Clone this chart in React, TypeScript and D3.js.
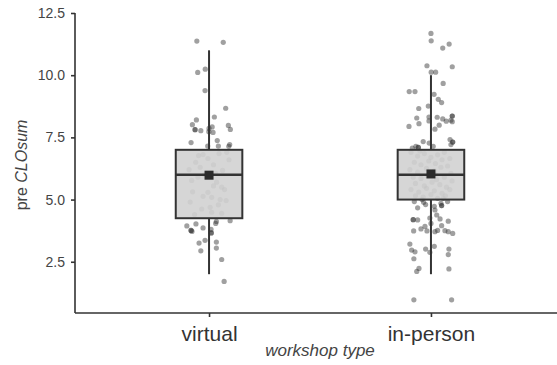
import { useEffect, useRef } from 'react';
import * as d3 from 'd3';

// categories and box statistics
const groups = ['virtual', 'in-person'];
const whiskerLo = [2.0, 2.0];
const q1 = [4.25, 5.0];
const medians = [6.0, 6.0];
const q3 = [7.0, 7.0];
const whiskerHi = [11.0, 10.0];
const means = [5.98, 6.03];

const yTicks = [2.5, 5.0, 7.5, 10.0, 12.5];

// jittered points: [horizontal jitter (fraction of category step), pre CLOsum]
const virtualPts: [number, number][] = [
  [-0.055, 11.37], [0.064, 11.32], [-0.051, 10.11], [-0.017, 10.24], [-0.018, 9.38],
  [0.075, 8.67], [0.024, 8.32], [-0.057, 8.2], [-0.075, 8.01], [0.087, 7.98],
  [0.014, 7.92], [-0.063, 7.81], [-0.063, 7.81], [-0.037, 7.77], [0.0, 7.86],
  [0.096, 7.82], [-0.001, 7.73], [0.018, 7.7], [-0.081, 7.29], [0.037, 7.37],
  [0.042, 7.15], [0.093, 7.21], [0.089, 7.14], [-0.006, 7.15],
  [-0.047, 6.77], [-0.027, 6.81], [-0.005, 6.65], [0.061, 6.17], [0.034, 5.7],
  [0.057, 5.5], [-0.078, 5.77], [-0.074, 5.31], [-0.027, 5.13], [-0.005, 5.29],
  [0.012, 5.09], [0.042, 4.79], [0.05, 5.0], [-0.033, 4.62], [0.012, 4.49],
  [0.057, 4.45], [0.077, 4.96], [0.005, 4.69], [-0.06, 6.5], [0.02, 6.4],
  [0.08, 6.9], [-0.09, 6.2], [-0.02, 6.0], [0.03, 6.05], [-0.05, 5.9],
  [0.07, 5.4], [-0.085, 4.9], [0.09, 6.6], [-0.065, 4.4], [0.02, 5.55],
  [-0.04, 6.3], [0.045, 6.85],
  [-0.1, 3.94], [-0.081, 3.76], [-0.081, 3.76], [-0.077, 3.72], [-0.059, 4.02],
  [-0.027, 3.86], [0.009, 3.8], [0.01, 3.66], [0.01, 3.66], [0.03, 4.04],
  [0.033, 4.12], [0.095, 4.15], [-0.018, 3.36], [-0.045, 3.25], [0.033, 3.29],
  [-0.037, 2.94], [0.033, 3.05], [0.057, 2.59], [0.068, 1.71],
];

const inPersonPts: [number, number][] = [
  [0.0, 11.68], [0.001, 11.38], [0.053, 11.09], [0.082, 11.25], [-0.018, 10.38],
  [0.001, 10.12], [0.021, 10.12], [0.096, 10.34], [0.055, 9.67], [-0.098, 9.34],
  [-0.072, 9.34], [0.014, 9.23], [0.033, 9.03], [0.048, 8.9], [-0.012, 8.76],
  [-0.055, 8.66], [-0.064, 8.28], [-0.009, 8.32], [0.028, 8.31], [0.053, 8.24],
  [0.069, 8.15], [0.09, 8.19], [0.096, 8.36], [0.096, 8.36], [0.096, 8.13],
  [-0.099, 7.94], [-0.054, 8.05], [-0.009, 8.16], [0.018, 7.83], [0.037, 7.99],
  [-0.035, 7.33], [-0.008, 7.27], [0.01, 7.14], [0.086, 7.41], [0.09, 7.21],
  [0.098, 7.31], [0.098, 7.31], [-0.084, 7.07], [-0.068, 7.14], [-0.057, 7.1],
  [-0.057, 7.1],
  [-0.09, 6.9], [-0.06, 6.75], [-0.03, 6.85], [0.0, 6.7], [0.03, 6.8],
  [0.06, 6.9], [0.085, 6.65], [-0.075, 6.5], [-0.045, 6.4], [-0.01, 6.55],
  [0.02, 6.45], [0.05, 6.6], [0.075, 6.35], [-0.095, 6.2], [-0.06, 6.1],
  [-0.02, 6.25], [0.015, 6.15], [0.045, 6.3], [0.09, 6.05], [-0.08, 5.9],
  [-0.045, 5.85], [-0.015, 5.95], [0.025, 5.8], [0.06, 5.9], [0.095, 5.75],
  [-0.07, 5.65], [-0.03, 5.55], [0.005, 5.7], [0.04, 5.6], [0.07, 5.5],
  [-0.09, 5.4], [-0.055, 5.3], [-0.02, 5.45], [0.015, 5.35], [0.05, 5.25],
  [0.085, 5.4], [-0.07, 5.15], [-0.035, 5.1], [0.0, 5.2], [0.03, 5.05],
  [0.065, 5.15], [-0.05, 6.95], [0.02, 6.0], [-0.04, 5.0], [0.055, 5.05],
  [-0.075, 4.92], [-0.06, 4.67], [-0.033, 4.89], [-0.024, 4.8], [0.015, 4.73],
  [0.018, 4.58], [0.048, 4.76], [0.048, 4.76], [0.045, 4.85], [0.075, 4.92],
  [-0.08, 4.19], [-0.08, 4.19], [-0.06, 4.18], [-0.005, 4.26], [0.0, 4.04],
  [0.026, 4.38], [0.041, 4.22], [0.078, 4.13], [-0.045, 3.82], [-0.027, 3.92],
  [-0.018, 3.74], [-0.078, 3.74], [0.018, 3.71], [0.03, 3.76], [0.048, 3.95],
  [0.063, 3.75], [0.078, 3.71], [0.098, 3.64], [-0.095, 3.21], [-0.087, 2.97],
  [-0.072, 2.9], [-0.077, 2.62], [-0.024, 3.01], [-0.005, 2.88], [0.015, 3.12],
  [0.081, 3.01], [0.078, 2.79], [-0.054, 2.23], [-0.064, 2.11], [0.081, 2.21],
  [-0.077, 0.97], [0.093, 0.97],
];

const points = [virtualPts, inPersonPts];

export default function App() {
  const ref = useRef<SVGSVGElement>(null);

  useEffect(() => {
    const svg = d3.select(ref.current);
    svg.selectAll('*').remove();

    const W = 557, H = 365;
    const left = 75, right = 565, top = 13, bottom = 313;
    const ink = '#333333';
    const font = '"Liberation Sans", Arial, sans-serif';

    const x = d3.scalePoint<string>().domain(groups).range([left, right]).padding(0.604);
    const y = d3.scaleLinear().domain([0.44, 12.5]).range([bottom, top]);
    const step = x.step();
    const boxW = step * 0.3;

    // points first, box drawn over them
    groups.forEach((g, i) => {
      svg.append('g')
        .selectAll('circle')
        .data(points[i])
        .enter()
        .append('circle')
        .attr('cx', d => x(g)! + d[0] * step)
        .attr('cy', d => y(d[1]))
        .attr('r', 2.6)
        .attr('fill', '#2d2d2d')
        .attr('fill-opacity', 0.45);
    });

    groups.forEach((g, i) => {
      const cx = x(g)!;
      const grp = svg.append('g');
      // whiskers
      grp.append('line')
        .attr('x1', cx).attr('x2', cx)
        .attr('y1', y(whiskerHi[i])).attr('y2', y(q3[i]))
        .attr('stroke', ink).attr('stroke-width', 2);
      grp.append('line')
        .attr('x1', cx).attr('x2', cx)
        .attr('y1', y(q1[i])).attr('y2', y(whiskerLo[i]))
        .attr('stroke', ink).attr('stroke-width', 2);
      // box
      grp.append('rect')
        .attr('x', cx - boxW / 2)
        .attr('y', y(q3[i]))
        .attr('width', boxW)
        .attr('height', y(q1[i]) - y(q3[i]))
        .attr('fill', '#d2d2d2')
        .attr('fill-opacity', 0.9)
        .attr('stroke', ink)
        .attr('stroke-width', 2);
      // median
      grp.append('line')
        .attr('x1', cx - boxW / 2).attr('x2', cx + boxW / 2)
        .attr('y1', y(medians[i])).attr('y2', y(medians[i]))
        .attr('stroke', ink).attr('stroke-width', 2.5);
      // mean
      grp.append('rect')
        .attr('x', cx - 4.5)
        .attr('y', y(means[i]) - 4.5)
        .attr('width', 9)
        .attr('height', 9)
        .attr('fill', '#2b2b2b');
    });

    // y axis
    const yAxis = svg.append('g')
      .attr('transform', `translate(${left},0)`)
      .call(d3.axisLeft(y).tickValues(yTicks).tickFormat(d3.format('.1f')).tickSize(4).tickSizeOuter(0));
    yAxis.select('.domain').remove();
    yAxis.append('line')
      .attr('x1', 0).attr('x2', 0)
      .attr('y1', y(12.5)).attr('y2', bottom)
      .attr('stroke', ink).attr('stroke-width', 1.6);
    yAxis.selectAll('.tick line').attr('stroke', ink).attr('stroke-width', 1.6);
    yAxis.selectAll('.tick text')
      .attr('x', -10)
      .style('font-family', font)
      .style('font-size', '14px')
      .attr('fill', '#444444');

    // x axis
    const xAxis = svg.append('g')
      .attr('transform', `translate(0,${bottom})`)
      .call(d3.axisBottom(x).tickSize(4).tickSizeOuter(0));
    xAxis.select('.domain').remove();
    xAxis.append('line')
      .attr('x1', left).attr('x2', W)
      .attr('y1', 0).attr('y2', 0)
      .attr('stroke', ink).attr('stroke-width', 1.6);
    xAxis.selectAll('.tick line').attr('stroke', ink).attr('stroke-width', 1.6);
    xAxis.selectAll('.tick text')
      .attr('y', 13)
      .style('font-family', font)
      .style('font-size', '21px')
      .attr('fill', '#333333');

    // axis titles
    svg.append('text')
      .attr('x', (left + right) / 2)
      .attr('y', 356)
      .attr('text-anchor', 'middle')
      .style('font-family', font)
      .style('font-size', '17px')
      .style('font-style', 'italic')
      .attr('fill', '#444444')
      .text('workshop type');

    const yl = svg.append('text')
      .attr('transform', `translate(27,${(top + bottom) / 2 + 2}) rotate(-90)`)
      .attr('text-anchor', 'middle')
      .style('font-family', font)
      .style('font-size', '16px')
      .attr('fill', '#444444');
    yl.append('tspan').text('pre ');
    yl.append('tspan').style('font-style', 'italic').text('CLOsum');

    svg.attr('width', W).attr('height', H);
  }, []);

  return (
    <svg
      ref={ref}
      width={557}
      height={365}
      style={{ position: 'absolute', left: 0, top: 0, background: '#fff' }}
    />
  );
}
